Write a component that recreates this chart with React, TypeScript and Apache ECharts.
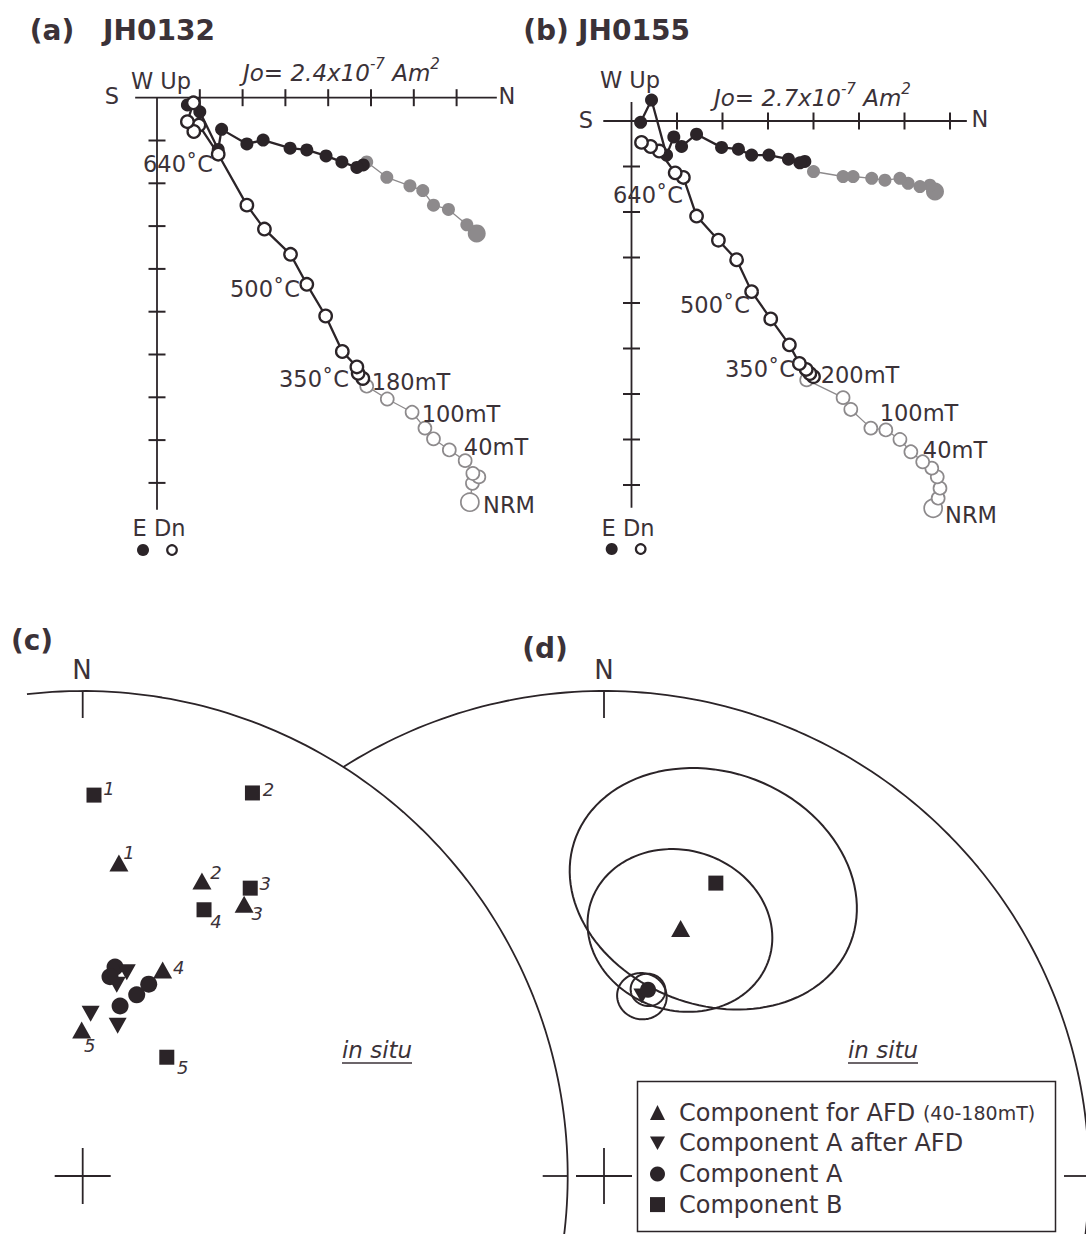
import React, { useEffect, useRef } from "react";
import * as echarts from "echarts";

const FONT = '"DejaVu Sans", "Liberation Sans", sans-serif';
const INK = "#2b2428";
const TXT = "#3b3238";
const GRAY = "#8d8a8c";

// ---------- (a) JH0132 : orthogonal projection, unit = one axis tick ----------
// pairs are [N, Down] (open) or [N, E] (filled)
const A_DOWN_AF = [[7.31, 9.45], [7.37, 9.01], [7.52, 8.86], [7.38, 8.78], [7.2, 8.48], [6.83, 8.23], [6.46, 7.97], [6.26, 7.72], [5.96, 7.35], [5.38, 7.04], [4.9, 6.74]];
const A_DOWN_TH = [[4.81, 6.56], [4.7, 6.44], [4.67, 6.29], [4.33, 5.93], [3.94, 5.1], [3.5, 4.36], [3.12, 3.66], [2.51, 3.07], [2.1, 2.51], [1.43, 1.32], [0.98, 0.64], [0.86, 0.79], [0.71, 0.56], [0.85, 0.12]];
const A_EAST_AF = [[7.47, 3.17], [7.24, 2.97], [6.81, 2.61], [6.46, 2.51], [6.21, 2.17], [5.91, 2.06], [5.37, 1.86], [4.9, 1.5]];
const A_EAST_TH = [[4.82, 1.57], [4.67, 1.63], [4.32, 1.5], [3.95, 1.36], [3.5, 1.22], [3.11, 1.18], [2.48, 0.99], [2.1, 1.08], [1.51, 0.74], [1.43, 1.21], [1.0, 0.33], [0.71, 0.17]];
const A_N_TICKS = [1, 2, 3, 4, 5, 6, 7];
const A_V_TICKS = [1, 2, 3, 4, 5, 6, 7, 8, 9];
const A_N_AXIS = [-0.51, 7.94];
const A_V_AXIS = [0, 9.63];

// ---------- (b) JH0155 ----------
const B_DOWN_AF = [[6.63, 8.51], [6.74, 8.29], [6.78, 8.07], [6.72, 7.82], [6.6, 7.63], [6.4, 7.49], [6.14, 7.27], [5.9, 7.0], [5.59, 6.79], [5.26, 6.75], [4.82, 6.34], [4.65, 6.08], [3.85, 5.69]];
const B_DOWN_TH = [[4.0, 5.62], [3.92, 5.55], [3.84, 5.46], [3.69, 5.33], [3.47, 4.92], [3.06, 4.35], [2.64, 3.75], [2.31, 3.05], [1.91, 2.62], [1.43, 2.09], [1.14, 1.24], [0.96, 1.14], [0.61, 0.66], [0.42, 0.56], [0.22, 0.47]];
const B_EAST_AF = [[6.67, 1.55], [6.56, 1.41], [6.34, 1.44], [6.08, 1.37], [5.9, 1.26], [5.57, 1.3], [5.28, 1.26], [4.87, 1.22], [4.65, 1.22], [4.0, 1.11]];
const B_EAST_TH = [[3.81, 0.89], [3.7, 0.92], [3.45, 0.84], [3.02, 0.75], [2.64, 0.75], [2.35, 0.62], [1.98, 0.58], [1.43, 0.29], [1.1, 0.56], [0.93, 0.35], [0.77, 0.75], [0.44, -0.46], [0.2, 0.03]];
const B_N_TICKS = [1, 2, 3, 4, 5, 6, 7];
const B_V_TICKS = [1, 2, 3, 4, 5, 6, 7, 8];
const B_N_AXIS = [-0.62, 7.37];
const B_V_AXIS = [-0.42, 8.5];

// ---------- (c) site directions, in situ [Dec, Inc] ----------
const C_AFD = [[6.6, 35.3], [22.0, 34.7], [30.7, 35.1], [21.2, 52.4], [359.6, 65.4]];
const C_AFD_SITE = [1, 2, 3, 4, 5];
const C_B = [[1.7, 22.5], [23.9, 14.7], [30.2, 31.9], [24.5, 39.5], [35.3, 65.5]];
const C_B_SITE = [1, 2, 3, 4, 5];
const C_A_AFTER = [[12.2, 54.6], [2.8, 62.6], [13.1, 64.0], [10.1, 57.1]];
const C_A = [[8.8, 54.1], [7.8, 55.9], [12.4, 60.6], [16.6, 58.0], [19.0, 55.6]];

// ---------- (d) mean directions [Dec, Inc, a95] ----------
const D_AFD = [17.2, 45.6, 14.5];
const D_A_AFTER = [11.9, 58.9, 4.0];
const D_A = [13.3, 57.6, 2.8];
const D_B = [20.9, 35.6, 22];

const SERIES_NAMES = ["Component for AFD", "Component A after AFD", "Component A", "Component B"];

// ---------- layout ----------
const ZA = { ox: 157, oy: 97.7, u: 42.8, left: 80, top: 40, w: 480, h: 510 };
const ZB = { ox: 631.5, oy: 121, u: 45.5, left: 570, top: 40, w: 500, h: 520 };
const SC = { cx: 82.7, cy: 1176, R: 485, left: 0, top: 640, w: 600, h: 594 };
const SD = { cx: 604, cy: 1176, R: 485, left: 330, top: 640, w: 756, h: 594 };
const C_B_LBL = [[15, -7], [16, -3], [15, -5], [12, 12], [16, 10]];
const C_AFD_LBL = [[10, -10], [14, -8], [13, 9], [16, -2], [8, 16]];
const INV_TRI = "path://M0,0L20,0L10,18Z";

const DEG = Math.PI / 180;
const proj = (d: number[]) => {
  const r = Math.SQRT2 * Math.sin(((90 - d[1]) * DEG) / 2);
  return [r * Math.sin(d[0] * DEG), r * Math.cos(d[0] * DEG)];
};
const arc = (a0: number, a1: number) => {
  const pts: number[][] = [];
  for (let a = a0; a < a1; a += 1) pts.push([Math.sin(a * DEG), Math.cos(a * DEG)]);
  pts.push([Math.sin(a1 * DEG), Math.cos(a1 * DEG)]);
  return pts;
};
const cone = (m0: number[]) => {
  const D = m0[0] * DEG, I = m0[1] * DEG, A = m0[2] * DEG;
  const m = [Math.cos(I) * Math.cos(D), Math.cos(I) * Math.sin(D), Math.sin(I)];
  const u = [-Math.sin(I) * Math.cos(D), -Math.sin(I) * Math.sin(D), Math.cos(I)];
  const w = [-Math.sin(D), Math.cos(D), 0];
  const out: number[][] = [];
  for (let k = 0; k <= 120; k++) {
    const p = k * 3 * DEG;
    const v = [0, 1, 2].map((j) => Math.cos(A) * m[j] + Math.sin(A) * (Math.cos(p) * u[j] + Math.sin(p) * w[j]));
    out.push(proj([Math.atan2(v[1], v[0]) / DEG, Math.asin(v[2]) / DEG]));
  }
  return out;
};

function zSeries(g: number, dnAF: number[][], dnTH: number[][], eAF: number[][], eTH: number[][], nAx: number[], vAx: number[], nT: number[], vT: number[]) {
  const seg = (data: number[][]) => ({ type: "line", xAxisIndex: g, yAxisIndex: g, data, symbol: "none", lineStyle: { color: INK, width: 1.8 }, silent: true, clip: false, z: 1 });
  const ticks = (data: number[][], size: number[]) => ({ type: "scatter", xAxisIndex: g, yAxisIndex: g, data, symbol: "rect", symbolSize: size, itemStyle: { color: INK, opacity: 1 }, silent: true, clip: false, z: 1 });
  const trail = (data: number[][], open: boolean, gray: boolean) => ({
    type: "line", xAxisIndex: g, yAxisIndex: g, data, symbol: "circle", clip: false, silent: true,
    symbolSize: (_v: any, p: any) => (gray ? (p.dataIndex === 0 ? 18 : 13) : open ? 12.5 : 13),
    itemStyle: open
      ? { color: "#ffffff", borderColor: gray ? GRAY : INK, borderWidth: gray ? 1.7 : 2.3, opacity: 1 }
      : { color: gray ? GRAY : INK, borderWidth: 0, opacity: 1 },
    lineStyle: { color: gray ? GRAY : INK, width: gray ? 1.3 : 2.3 },
    z: gray ? 2 : 3,
  });
  return [
    seg([[nAx[0], 0], [nAx[1], 0]]),
    seg([[0, vAx[0]], [0, vAx[1]]]),
    ticks(nT.map((k) => [k, 0]), [2, 17]),
    ticks(vT.map((k) => [0, k]), [17, 2]),
    trail(eAF, false, true),
    trail(dnAF, true, true),
    trail(eTH, false, false),
    trail(dnTH, true, false),
  ];
}

function netFrame(g: number, S: any, a0: number) {
  const c = 28 / S.R;
  const seg = (data: number[][], clip = true) => ({ type: "line", xAxisIndex: g, yAxisIndex: g, data, symbol: "none", lineStyle: { color: INK, width: 1.8 }, silent: true, clip, z: 1 });
  return [
    seg(arc(a0, 125)),
    seg([[0, 1], [0, 1 - 27 / S.R]], false),
    seg([[1, 0], [1 - 25 / S.R, 0]], false),
    seg([[-c, 0], [c, 0]], false),
    seg([[0, -c], [0, c]], false),
  ];
}

const symStyle = { color: INK, opacity: 1 };
const lblBase = { show: false, position: "inside", fontSize: 18, fontStyle: "italic", color: TXT, fontFamily: FONT, textBorderWidth: 0 };

function cSeries() {
  const lab = (sites: number[], offs: number[][]) => (d: number[], i: number) => ({
    value: proj(d),
    label: { show: true, formatter: String(sites[i]), offset: offs[i] },
  });
  return [
    { type: "scatter", name: SERIES_NAMES[3], xAxisIndex: 2, yAxisIndex: 2, symbol: "rect", symbolSize: 15, itemStyle: symStyle, label: lblBase, data: C_B.map(lab(C_B_SITE, C_B_LBL)), z: 5, silent: true },
    { type: "scatter", name: SERIES_NAMES[0], xAxisIndex: 2, yAxisIndex: 2, symbol: "triangle", symbolSize: [19, 17], itemStyle: symStyle, label: lblBase, data: C_AFD.map(lab(C_AFD_SITE, C_AFD_LBL)), z: 5, silent: true },
    { type: "scatter", name: SERIES_NAMES[2], xAxisIndex: 2, yAxisIndex: 2, symbol: "circle", symbolSize: 17, itemStyle: symStyle, data: C_A.map(proj), z: 5, silent: true },
    { type: "scatter", name: SERIES_NAMES[1], xAxisIndex: 2, yAxisIndex: 2, symbol: INV_TRI, symbolSize: [18, 16], itemStyle: symStyle, data: C_A_AFTER.map(proj), z: 5, silent: true },
  ];
}

function dSeries() {
  const ell = (m: number[]) => ({ type: "line", xAxisIndex: 3, yAxisIndex: 3, data: cone(m), symbol: "none", lineStyle: { color: INK, width: 2 }, silent: true, z: 2 });
  return [
    ell(D_B), ell(D_AFD), ell(D_A_AFTER), ell(D_A),
    { type: "scatter", name: SERIES_NAMES[3], xAxisIndex: 3, yAxisIndex: 3, symbol: "rect", symbolSize: 15, itemStyle: symStyle, data: [proj(D_B)], z: 5, silent: true },
    { type: "scatter", name: SERIES_NAMES[0], xAxisIndex: 3, yAxisIndex: 3, symbol: "triangle", symbolSize: [19, 17], itemStyle: symStyle, data: [proj(D_AFD)], z: 5, silent: true },
    { type: "scatter", name: SERIES_NAMES[1], xAxisIndex: 3, yAxisIndex: 3, symbol: INV_TRI, symbolSize: [17, 15], itemStyle: symStyle, data: [proj(D_A_AFTER)], z: 5, silent: true },
    { type: "scatter", name: SERIES_NAMES[2], xAxisIndex: 3, yAxisIndex: 3, symbol: "circle", symbolSize: 16, itemStyle: symStyle, data: [proj(D_A)], z: 5, silent: true },
  ];
}

const T = (x: number, y: number, text: string, o: any = {}) => ({
  type: "text", x, y, silent: true, z: 20,
  style: {
    text, fill: TXT, fontFamily: FONT, fontSize: o.size || 22.5,
    fontStyle: o.italic ? "italic" : "normal", fontWeight: o.bold ? "bold" : "normal",
    align: o.align || "center", verticalAlign: "middle",
  },
});
const Jo = (x: number, y: number, v: string) => ({
  type: "text", x, y, silent: true, z: 20,
  style: {
    text: `{t|Jo= ${v}x10}{s|-7}{t| Am}{s|2}`,
    align: "left", verticalAlign: "middle",
    rich: {
      t: { fontSize: 23, fontStyle: "italic", fontFamily: FONT, fill: TXT },
      s: { fontSize: 15, fontStyle: "italic", fontFamily: FONT, fill: TXT, padding: [0, 0, 18, 0] },
    },
  },
});
const dot = (x: number, y: number, open: boolean) => ({
  type: "circle", silent: true, z: 20, shape: { cx: x, cy: y, r: open ? 4.8 : 6 },
  style: open ? { fill: "#fff", stroke: INK, lineWidth: 2.2 } : { fill: INK },
});
const hline = (x1: number, x2: number, y: number) => ({ type: "line", silent: true, z: 20, shape: { x1, y1: y, x2, y2: y }, style: { stroke: TXT, lineWidth: 1.3 } });

const graphic = [
  T(52, 30, "(a)", { bold: true, size: 28 }), T(159, 30, "JH0132", { bold: true, size: 28 }),
  T(161, 81, "W Up"), T(112, 96, "S"), T(507, 96, "N"), Jo(243, 73, "2.4"),
  T(178, 164, "640˚C"), T(265, 289, "500˚C"), T(314, 379, "350˚C"), T(411, 382, "180mT"),
  T(461, 414, "100mT"), T(496, 447, "40mT"), T(509, 505, "NRM"),
  T(159, 528, "E Dn"), dot(143, 550, false), dot(172, 550, true),

  T(546, 30, "(b)", { bold: true, size: 28 }), T(634, 30, "JH0155", { bold: true, size: 28 }),
  T(630, 80, "W Up"), T(586, 120, "S"), T(980, 119, "N"), Jo(714, 98, "2.7"),
  T(648, 195, "640˚C"), T(715, 305, "500˚C"), T(760, 369, "350˚C"), T(860, 375, "200mT"),
  T(919, 413, "100mT"), T(955, 450, "40mT"), T(971, 515, "NRM"),
  T(628, 528, "E Dn"), dot(611.7, 549, false), dot(640.7, 549, true),

  T(32, 640, "(c)", { bold: true, size: 28 }), T(82, 670, "N", { size: 26 }),
  T(377, 1050, "in situ", { italic: true, size: 23 }), hline(342, 412, 1063),
  T(545, 648, "(d)", { bold: true, size: 28 }), T(604, 670, "N", { size: 26 }),
  T(883, 1050, "in situ", { italic: true, size: 23 }), hline(848, 918, 1063),

  { type: "rect", silent: true, z: 0, shape: { x: 637.5, y: 1081.5, width: 418, height: 150 }, style: { fill: "none", stroke: INK, lineWidth: 1.5 } },
];

const zGrid = (L: any) => ({ left: L.left, top: L.top, width: L.w, height: L.h });
const zX = (L: any, i: number) => ({ type: "value", gridIndex: i, min: (L.left - L.ox) / L.u, max: (L.left + L.w - L.ox) / L.u, show: false });
const zY = (L: any, i: number) => ({ type: "value", gridIndex: i, inverse: true, min: (L.top - L.oy) / L.u, max: (L.top + L.h - L.oy) / L.u, show: false });
const sX = (S: any, i: number) => ({ type: "value", gridIndex: i, min: (S.left - S.cx) / S.R, max: (S.left + S.w - S.cx) / S.R, show: false });
const sY = (S: any, i: number) => ({ type: "value", gridIndex: i, min: (S.cy - S.top - S.h) / S.R, max: (S.cy - S.top) / S.R, show: false });

const dStart = -Math.asin((SD.cx - SC.cx) / (2 * SC.R)) / DEG;

const option: any = {
  animation: false,
  backgroundColor: "#ffffff",
  grid: [zGrid(ZA), zGrid(ZB), zGrid(SC), zGrid(SD)],
  xAxis: [zX(ZA, 0), zX(ZB, 1), sX(SC, 2), sX(SD, 3)],
  yAxis: [zY(ZA, 0), zY(ZB, 1), sY(SC, 2), sY(SD, 3)],
  legend: {
    orient: "vertical", left: 650, top: 1100, itemWidth: 15, itemHeight: 15, itemGap: 5.7,
    selectedMode: false, padding: 0,
    data: [
      { name: SERIES_NAMES[0], icon: "triangle" },
      { name: SERIES_NAMES[1], icon: INV_TRI },
      { name: SERIES_NAMES[2], icon: "circle" },
      { name: SERIES_NAMES[3], icon: "rect" },
    ],
    itemStyle: { opacity: 1 },
    formatter: (n: string) => (n === SERIES_NAMES[0] ? `{a|${n}} {b|(40-180mT)}` : `{a|${n}}`),
    textStyle: {
      color: TXT, fontFamily: FONT, fontSize: 24, lineHeight: 25,
      rich: {
        a: { fontSize: 24, fontFamily: FONT, color: TXT, padding: [0, 0, 0, 9] },
        b: { fontSize: 19, fontFamily: FONT, color: TXT },
      },
    },
  },
  graphic,
  series: [
    ...zSeries(0, A_DOWN_AF, A_DOWN_TH, A_EAST_AF, A_EAST_TH, A_N_AXIS, A_V_AXIS, A_N_TICKS, A_V_TICKS),
    ...zSeries(1, B_DOWN_AF, B_DOWN_TH, B_EAST_AF, B_EAST_TH, B_N_AXIS, B_V_AXIS, B_N_TICKS, B_V_TICKS),
    ...netFrame(2, SC, -6.6),
    ...netFrame(3, SD, dStart),
    ...cSeries(),
    ...dSeries(),
  ],
};

export default function App() {
  const ref = useRef<HTMLDivElement>(null);
  useEffect(() => {
    const chart = echarts.init(ref.current as HTMLDivElement, null, { renderer: "svg", width: 1086, height: 1234 });
    chart.setOption(option);
    return () => chart.dispose();
  }, []);
  return <div ref={ref} style={{ position: "absolute", left: 0, top: 0, width: 1086, height: 1234, background: "#fff" }} />;
}
